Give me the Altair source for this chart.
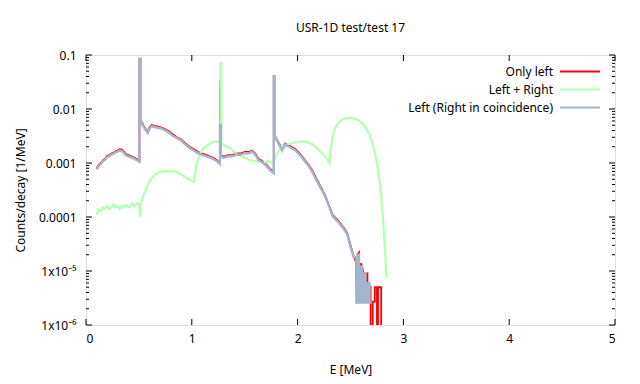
import math
import altair as alt
import pandas as pd

# ---------------- data ----------------
E_left = [0.10, 0.12, 0.14, 0.16, 0.18, 0.20, 0.22, 0.24, 0.26, 0.28, 0.30, 0.32,
          0.34, 0.36, 0.38, 0.40, 0.42, 0.44, 0.46, 0.48, 0.505, 0.505, 0.515, 0.515,
          0.53, 0.55, 0.57, 0.585, 0.60, 0.62, 0.64, 0.66, 0.70, 0.74, 0.78, 0.82,
          0.86, 0.90, 0.94, 0.98, 1.02, 1.06, 1.10, 1.14, 1.18, 1.22, 1.266, 1.266,
          1.274, 1.274, 1.30, 1.34, 1.38, 1.42, 1.46, 1.50, 1.54, 1.57, 1.60, 1.63,
          1.66, 1.70, 1.74, 1.775, 1.775, 1.785, 1.785, 1.80, 1.83, 1.855, 1.88, 1.90,
          1.94, 1.98, 2.02, 2.06, 2.10, 2.14, 2.18, 2.22, 2.26, 2.30, 2.33, 2.36,
          2.40, 2.44, 2.47, 2.50, 2.53, 2.55, 2.555, 2.565, 2.565, 2.58, 2.58, 2.60,
          2.60, 2.62, 2.62, 2.64, 2.64, 2.66, 2.66, 2.69, 2.69, 2.71, 2.71, 2.73,
          2.73, 2.75, 2.75, 2.76, 2.76, 2.79, 2.79]
V_left = [0.00080, 0.00092, 0.00100, 0.00112, 0.00120, 0.00135, 0.00140, 0.00150,
          0.00155, 0.00165, 0.00170, 0.00182, 0.00175, 0.00160, 0.00145, 0.00140,
          0.00135, 0.00130, 0.00125, 0.00118, 0.00110, 0.085, 0.085, 0.0060, 0.0055,
          0.0047, 0.0041, 0.0038, 0.0045, 0.0051, 0.0049, 0.0048, 0.0046, 0.0043,
          0.0039, 0.0034, 0.0030, 0.0027, 0.0023, 0.0020, 0.0018, 0.0016, 0.0015,
          0.0014, 0.0013, 0.0012, 0.0010, 0.032, 0.032, 0.0014, 0.0013, 0.0014,
          0.0014, 0.0015, 0.0015, 0.0016, 0.0016, 0.0017, 0.0015, 0.0012, 0.0011,
          0.00095, 0.00078, 0.00068, 0.040, 0.040, 0.0032, 0.0028, 0.0022, 0.0018,
          0.0023, 0.0022, 0.0020, 0.0018, 0.0015, 0.0012, 0.00095, 0.00072, 0.00050,
          0.00036, 0.00025, 0.00016, 0.00011, 0.000095, 0.000078, 0.000062, 0.000050,
          0.000030, 0.000019, 0.000015, 0.0000055, 0.0000055, 0.000020, 0.000022,
          0.000008, 0.000008, 0.000014, 0.000010, 0.000004, 0.000004, 0.000009,
          0.000009, 0.000005, 0.000005, 1e-9, 1e-9, 0.0000027, 0.0000027, 0.000005,
          0.000005, 1e-9, 1e-9, 0.000005, 0.000005, 1e-9]

E_sum = [0.10, 0.12, 0.14, 0.16, 0.18, 0.20, 0.22, 0.24, 0.26, 0.28, 0.30, 0.32,
         0.34, 0.36, 0.38, 0.40, 0.42, 0.44, 0.46, 0.48, 0.505, 0.51, 0.52, 0.54,
         0.56, 0.58, 0.60, 0.62, 0.64, 0.66, 0.68, 0.70, 0.72, 0.74, 0.76, 0.78,
         0.80, 0.82, 0.84, 0.86, 0.88, 0.90, 0.92, 0.94, 0.96, 0.98, 1.00, 1.02,
         1.04, 1.06, 1.08, 1.10, 1.13, 1.16, 1.19, 1.22, 1.27, 1.27, 1.28, 1.28,
         1.30, 1.33, 1.36, 1.40, 1.44, 1.48, 1.52, 1.56, 1.60, 1.64, 1.68, 1.72,
         1.76, 1.78, 1.80, 1.83, 1.86, 1.90, 1.94, 1.98, 2.02, 2.06, 2.10, 2.14,
         2.18, 2.22, 2.26, 2.29, 2.30, 2.31, 2.33, 2.35, 2.38, 2.41, 2.44, 2.47,
         2.50, 2.53, 2.56, 2.59, 2.62, 2.65, 2.68, 2.71, 2.73, 2.75, 2.77, 2.79,
         2.80, 2.81, 2.82, 2.83, 2.84]
V_sum = [0.00011, 0.00014, 0.00013, 0.00015, 0.00014, 0.00016, 0.00014, 0.00015,
         0.00017, 0.00015, 0.00016, 0.00014, 0.00016, 0.00015, 0.00017, 0.00015,
         0.00016, 0.00018, 0.00016, 0.00018, 0.00017, 0.00010, 0.00018, 0.00024,
         0.00030, 0.00038, 0.00046, 0.00052, 0.00058, 0.00063, 0.00066, 0.00068,
         0.00070, 0.00069, 0.00071, 0.00068, 0.00072, 0.00070, 0.00071, 0.00068,
         0.00064, 0.00061, 0.00058, 0.00055, 0.00052, 0.00049, 0.00046, 0.00045,
         0.00085, 0.0012, 0.0015, 0.0018, 0.0020, 0.0022, 0.0024, 0.0025, 0.0024,
         0.070, 0.070, 0.0023, 0.0022, 0.0020, 0.0019, 0.0016, 0.0014, 0.0013,
         0.0012, 0.0011, 0.0011, 0.00105, 0.0010, 0.0011, 0.0010, 0.0011, 0.0014,
         0.0018, 0.0020, 0.0022, 0.0023, 0.0024, 0.0025, 0.0025, 0.0024, 0.0022,
         0.0019, 0.0016, 0.0013, 0.0011, 0.0010, 0.0016, 0.0030, 0.0043, 0.0054,
         0.0061, 0.0066, 0.0068, 0.0068, 0.0067, 0.0064, 0.0059, 0.0052, 0.0043,
         0.0033, 0.0023, 0.0015, 0.0010, 0.00055, 0.00025, 0.00014, 0.00008,
         0.00004, 0.000018, 0.0000075]

E_coinc = [0.10, 0.12, 0.14, 0.16, 0.18, 0.20, 0.22, 0.24, 0.26, 0.28, 0.30, 0.32,
           0.34, 0.36, 0.38, 0.40, 0.42, 0.44, 0.46, 0.48, 0.505, 0.505, 0.515, 0.515,
           0.53, 0.55, 0.57, 0.585, 0.60, 0.62, 0.64, 0.66, 0.70, 0.74, 0.78, 0.82,
           0.86, 0.90, 0.94, 0.98, 1.02, 1.06, 1.10, 1.14, 1.18, 1.22, 1.266, 1.266,
           1.274, 1.274, 1.30, 1.34, 1.38, 1.42, 1.46, 1.50, 1.54, 1.57, 1.60, 1.63,
           1.66, 1.70, 1.74, 1.775, 1.775, 1.785, 1.785, 1.80, 1.83, 1.855, 1.88, 1.90,
           1.94, 1.98, 2.02, 2.06, 2.10, 2.14, 2.18, 2.22, 2.26, 2.30, 2.33, 2.36,
           2.40, 2.44, 2.47, 2.50, 2.53, 2.555, 2.555, 2.565, 2.565, 2.58, 2.58, 2.59,
           2.59, 2.61, 2.61, 2.62, 2.62, 2.64, 2.64, 2.66, 2.66, 2.68, 2.68, 2.70]
V_coinc = [0.00076, 0.00088, 0.00096, 0.00107, 0.00115, 0.00128, 0.00134, 0.00143,
           0.00148, 0.00157, 0.00162, 0.00172, 0.00166, 0.00152, 0.00138, 0.00133,
           0.00128, 0.00124, 0.00119, 0.00112, 0.00105, 0.085, 0.085, 0.0058, 0.0052,
           0.0045, 0.0039, 0.0036, 0.0043, 0.0048, 0.0047, 0.0046, 0.0044, 0.0041,
           0.0037, 0.0032, 0.0029, 0.0026, 0.0022, 0.0019, 0.0017, 0.0015, 0.00142,
           0.00133, 0.00124, 0.00114, 0.00096, 0.0050, 0.0050, 0.00133, 0.00124,
           0.00133, 0.00133, 0.00142, 0.00142, 0.00152, 0.00152, 0.00162, 0.00142,
           0.00114, 0.00105, 0.00090, 0.00074, 0.00065, 0.040, 0.040, 0.0030, 0.0027,
           0.0021, 0.0017, 0.0022, 0.0021, 0.0019, 0.0017, 0.00142, 0.00114, 0.00090,
           0.00068, 0.00047, 0.00034, 0.00024, 0.000152, 0.000105, 0.000090,
           0.000074, 0.000059, 0.000047, 0.000028, 0.000018, 0.000018, 0.0000026,
           0.0000026, 0.000020, 0.000020, 0.0000026, 0.0000026, 0.000012, 0.000012,
           0.0000026, 0.0000026, 0.000009, 0.000009, 0.0000026, 0.0000026, 0.000006,
           0.000006, 0.0000026, 0.0000026]

series_names = ["Only left", "Left + Right", "Left (Right in coincidence)"]
series_colors = ["#ff0000", "#b3ffb3", "#a3b4cc"]
series_widths = [1.8, 2.2, 2.4]

x_ticks = [0, 1, 2, 3, 4, 5]
y_ticks = [1e-6, 1e-5, 1e-4, 1e-3, 1e-2, 1e-1]
y_labels = ["1x10⁻⁶", "1x10⁻⁵", "0.0001", "0.001", "0.01", "0.1"]
y_minor = [k * d for d in y_ticks[:-1] for k in range(2, 10)]

W, H = 529, 270
FONT = "Noto Sans"

xscale = alt.Scale(domain=[0, 5], nice=False, zero=False)
yscale = alt.Scale(type="log", domain=[1e-6, 0.1], nice=False)

# label expression for the y axis, built from the label lists
expr = "''"
for v, lab in zip(y_ticks, y_labels):
    expr = (f"(abs(log(datum.value)/LN10 - ({math.log10(v):.4f})) < 0.01 ? "
            f"'{lab}' : {expr})")

xaxis = alt.Axis(values=x_ticks, ticks=False, domain=False, grid=False,
                 labelFont=FONT, labelFontSize=12, labelColor="#000",
                 labelPadding=8, title="E [MeV]", titleFont=FONT,
                 titleFontSize=12, titleFontWeight="normal", titleColor="#000",
                 titleY=44, titleBaseline="middle")
yaxis = alt.Axis(values=y_ticks, ticks=False, domain=False, grid=False,
                 labelExpr=expr, labelFont=FONT, labelFontSize=12,
                 labelColor="#000", labelPadding=10, title="Counts/decay [1/MeV]",
                 titleFont=FONT, titleFontSize=12, titleFontWeight="normal",
                 titleColor="#000", titleX=-66, titleY=H / 2,
                 titleBaseline="middle", titleAlign="center")


def line_layer(E, V, color, width):
    df = pd.DataFrame({"E": E, "v": V, "i": range(len(E))})
    return alt.Chart(df).mark_line(
        clip=True, color=color, strokeWidth=width, strokeJoin="miter"
    ).encode(
        x=alt.X("E:Q", scale=xscale, axis=xaxis),
        y=alt.Y("v:Q", scale=yscale, axis=yaxis),
        order="i:Q",
    )


layers = [
    line_layer(E_left, V_left, series_colors[0], series_widths[0]),
    line_layer(E_sum, V_sum, series_colors[1], series_widths[1]),
    line_layer(E_coinc, V_coinc, series_colors[2], series_widths[2]),
]

# inward ticks (gnuplot style), mirrored on all sides
xt = pd.DataFrame({"E": x_ticks})
for y0, y1 in [(H, H - 6), (0, 6)]:
    layers.append(alt.Chart(xt).mark_rule(color="black", strokeWidth=1).encode(
        x=alt.X("E:Q", scale=xscale, axis=xaxis), y=alt.value(y0), y2=alt.value(y1)))
ytm = pd.DataFrame({"v": y_ticks})
ytn = pd.DataFrame({"v": y_minor})
for df, ln in [(ytm, 6), (ytn, 3)]:
    for x0, x1 in [(0, ln), (W, W - ln)]:
        layers.append(alt.Chart(df).mark_rule(color="black", strokeWidth=1).encode(
            y=alt.Y("v:Q", scale=yscale, axis=yaxis), x=alt.value(x0), x2=alt.value(x1)))

# legend (gnuplot style: label right-aligned, sample line on the right)
leg = pd.DataFrame({"name": series_names})
for i, (name, col) in enumerate(zip(series_names, series_colors)):
    yy = 16.5 + 18 * i
    layers.append(alt.Chart(leg.iloc[[i]]).mark_text(
        align="right", baseline="middle", font=FONT, fontSize=12, color="#000"
    ).encode(x=alt.value(467), y=alt.value(yy), text="name:N"))
    layers.append(alt.Chart(leg.iloc[[i]]).mark_rule(color=col, strokeWidth=2).encode(
        x=alt.value(474), x2=alt.value(514), y=alt.value(yy)))

chart = alt.layer(*layers).properties(
    width=W, height=H,
    title=alt.TitleParams("USR-1D test/test 17", font=FONT, fontSize=12,
                          fontWeight="normal", color="#000", anchor="middle",
                          offset=14),
    autosize=alt.AutoSizeParams(type="none"),
    padding={"left": 78, "top": 47, "right": 17, "bottom": 58},
).configure_view(stroke="black", strokeWidth=1).configure(background="white")

chart.save("out.html", embed_options={"renderer": "svg", "actions": False})
